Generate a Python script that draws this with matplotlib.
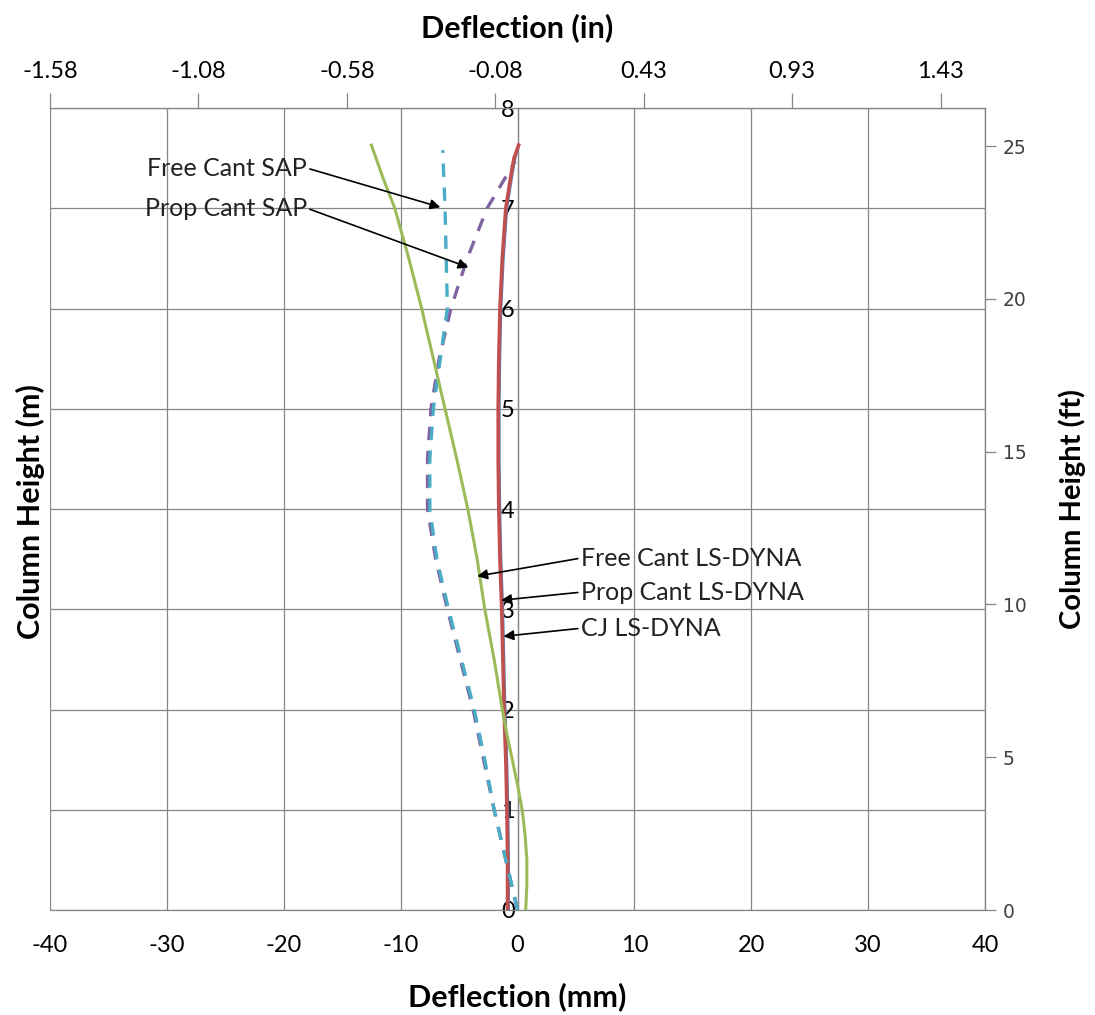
import matplotlib
matplotlib.use("Agg")
import matplotlib.pyplot as plt

plt.rcParams['font.family'] = ['Lato', 'DejaVu Sans']
plt.rcParams['axes.unicode_minus'] = False

# deflection profiles: heights in m, deflections in mm
cj_h = [0, 0.5, 1.0, 1.5, 2.0, 2.5, 3.0, 3.5, 4.0, 4.5, 5.0, 5.5, 6.0, 6.5, 7.0, 7.3, 7.5, 7.63]
cj_x = [-0.75, -0.75, -0.8, -0.9, -1.05, -1.15, -1.25, -1.4, -1.5, -1.55, -1.55, -1.5, -1.4, -1.2, -0.9, -0.5, -0.2, 0.1]

prop_ls_h = [0, 0.5, 1.0, 1.5, 2.0, 2.5, 3.0, 3.5, 4.0, 4.5, 5.0, 5.5, 6.0, 6.5, 7.0, 7.3, 7.5, 7.63]
prop_ls_x = [-0.85, -0.85, -0.9, -1.0, -1.15, -1.25, -1.35, -1.5, -1.6, -1.65, -1.65, -1.6, -1.5, -1.3, -1.0, -0.6, -0.3, 0.1]

free_ls_h = [0, 0.25, 0.5, 0.75, 1.0, 1.25, 1.5, 1.75, 2.0, 2.5, 3.0, 3.5, 4.0, 4.5, 5.0, 5.5, 6.0, 6.5, 7.0, 7.3, 7.63]
free_ls_x = [0.7, 0.8, 0.8, 0.65, 0.4, 0.0, -0.45, -0.9, -1.3, -2.0, -2.8, -3.45, -4.25, -5.2, -6.2, -7.2, -8.2, -9.3, -10.5, -11.5, -12.5]

prop_sap_h = [0, 0.5, 1.0, 1.5, 2.0, 2.5, 3.0, 3.5, 4.0, 4.5, 5.0, 5.5, 6.0, 6.5, 7.0, 7.47]
prop_sap_x = [0.0, -1.0, -2.0, -2.9, -3.8, -4.9, -6.0, -7.0, -7.7, -7.7, -7.4, -6.7, -5.7, -4.3, -2.6, -0.2]

free_sap_h = [0, 0.5, 1.0, 1.5, 2.0, 2.5, 3.0, 3.5, 4.0, 4.5, 5.0, 5.5, 6.0, 6.5, 7.0, 7.58]
free_sap_x = [0.0, -1.0, -2.0, -2.8, -3.7, -4.8, -5.9, -6.9, -7.5, -7.5, -7.2, -6.6, -6.0, -6.1, -6.2, -6.4]

x_ticks_mm = [-40, -30, -20, -10, 0, 10, 20, 30, 40]
y_ticks_m = [0, 1, 2, 3, 4, 5, 6, 7, 8]
top_ticks_in = [-1.5748, -1.0748, -0.5748, -0.0748, 0.4252, 0.9252, 1.4252]
top_labels_in = ['-1.58', '-1.08', '-0.58', '-0.08', '0.43', '0.93', '1.43']
right_ticks_ft = [0, 5, 10, 15, 20, 25]

# annotation: label, arrow tip (mm, m), text position (mm, m), side
notes = [
    ('Free Cant SAP', (-6.6, 7.01), (-18.0, 7.40), 'right'),
    ('Prop Cant SAP', (-4.2, 6.41), (-18.0, 7.00), 'right'),
    ('Free Cant LS-DYNA', (-3.45, 3.33), (5.4, 3.51), 'left'),
    ('Prop Cant LS-DYNA', (-1.4, 3.09), (5.4, 3.17), 'left'),
    ('CJ LS-DYNA', (-1.2, 2.73), (5.4, 2.81), 'left'),
]

grid_c = '#868686'
MM_PER_IN = 25.4
M_PER_FT = 0.3048

fig = plt.figure(figsize=(10.95, 10.15), dpi=100)
ax = fig.add_axes([50 / 1095, 105 / 1015, 935 / 1095, 802 / 1015])

ax.plot(cj_x, cj_h, color='#4F81BD', lw=1.8, zorder=3)
ax.plot(prop_ls_x, prop_ls_h, color='#C0504D', lw=2.6, zorder=4)
ax.plot(free_ls_x, free_ls_h, color='#9BBB59', lw=2.2, zorder=5)
ax.plot(prop_sap_x, prop_sap_h, color='#8064A2', lw=2.4, dashes=(4, 3.2), zorder=3)
ax.plot(free_sap_x, free_sap_h, color='#4BACC6', lw=2.4, dashes=(4, 3.2), zorder=4)

ax.set_xlim(-40, 40)
ax.set_ylim(0, 8)
ax.set_xticks(x_ticks_mm)
ax.set_yticks(y_ticks_m)
ax.grid(True, color=grid_c, lw=0.9)
ax.set_axisbelow(True)

# y axis crosses at zero deflection
ax.spines['left'].set_position(('data', 0))
for s in ['left', 'bottom', 'top', 'right']:
    ax.spines[s].set_color(grid_c)
    ax.spines[s].set_linewidth(0.9)
ax.tick_params(axis='y', length=0, pad=2, labelsize=17)
ax.tick_params(axis='x', length=0, pad=18, labelsize=17)

ax.set_xlabel('Deflection (mm)', fontsize=22, fontweight='bold')
ax.xaxis.set_label_coords(0.5, -0.09)
fig.text(30 / 1095, 1 - 512 / 1015, 'Column Height (m)', rotation=90, fontsize=22,
         fontweight='bold', ha='center', va='center')

top = ax.secondary_xaxis('top', functions=(lambda v: v / MM_PER_IN, lambda v: v * MM_PER_IN))
top.set_xticks(top_ticks_in)
top.set_xticklabels(top_labels_in)
top.tick_params(length=11, color=grid_c, width=0.9, pad=8, labelsize=17)
top.spines['top'].set_color(grid_c)
top.set_xlabel('Deflection (in)', fontsize=22, fontweight='bold', labelpad=17)

right = ax.secondary_yaxis('right', functions=(lambda v: v / M_PER_FT, lambda v: v * M_PER_FT))
right.set_yticks(right_ticks_ft)
right.tick_params(length=8, color=grid_c, width=0.9, pad=5, labelsize=13.5, labelcolor='#404040')
for lab in right.get_yticklabels():
    lab.set_family('DejaVu Sans')
right.spines['right'].set_color(grid_c)
right.set_ylabel('Column Height (ft)', fontsize=21, fontweight='bold', labelpad=23)

for text, tip, pos, side in notes:
    ax.annotate(text, xy=tip, xytext=pos, ha=side, va='center', fontsize=18, color='#222222',
                arrowprops=dict(arrowstyle='-|>', color='black', lw=1.2, mutation_scale=15,
                                relpos=(1, 0.5) if side == 'right' else (0, 0.5),
                                shrinkA=0, shrinkB=0),
                zorder=6)

fig.savefig('out.png', dpi=100)
